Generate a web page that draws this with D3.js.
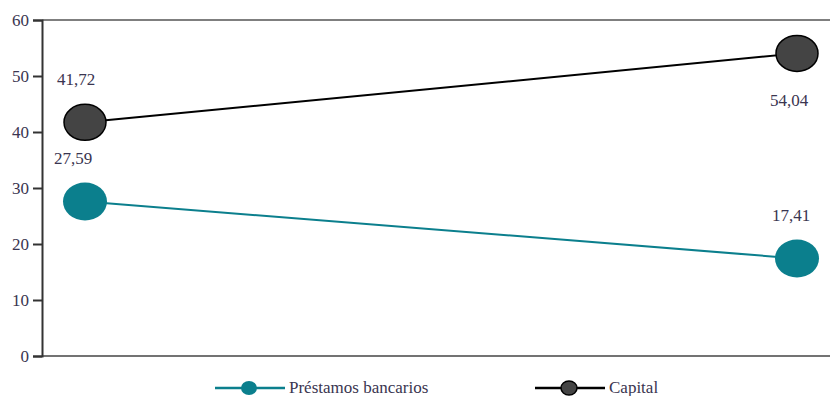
<!DOCTYPE html>
<html><head><meta charset="utf-8">
<script src="https://cdn.jsdelivr.net/npm/d3@7"></script>
<style>body{margin:0;background:#fff;font-family:"Liberation Serif"}svg{display:block}</style>
</head><body>
<svg id="c" width="830" height="396" font-family="Liberation Serif"></svg>
<script>
const periods = ["Inicio", "Fin"];
const seriesNames = ["Préstamos bancarios", "Capital"];
const prestamos = [27.59, 17.41];
const capital = [41.72, 54.04];
const prestamosLabels = ["27,59", "17,41"];
const capitalLabels = ["41,72", "54,04"];
const yTicks = [0, 10, 20, 30, 40, 50, 60];

const svg = d3.select("#c");
const font = "Liberation Serif";
const teal = "#0b7f8d";
const dark = "#444444";
const textCol = "#3a3550";
const fs = 17;

const x = d3.scalePoint().domain(periods).range([85, 797]);
const y = d3.scaleLinear().domain([0, 60]).range([356, 20]);

function styleText(sel) {
  return sel.attr("font-family", font).attr("font-size", fs).attr("fill", textCol)
    .style("font-family", '"Liberation Serif"').style("font-size", fs + "px");
}

// top border line
svg.append("line").attr("x1", 42).attr("x2", 830).attr("y1", y(60)).attr("y2", y(60))
  .attr("stroke", "#555").attr("stroke-width", 1.5);
// bottom axis line
svg.append("line").attr("x1", 42).attr("x2", 830).attr("y1", y(0)).attr("y2", y(0))
  .attr("stroke", "#444").attr("stroke-width", 1.5);

const yAxis = svg.append("g").attr("transform", "translate(42,0)")
  .call(d3.axisLeft(y).tickValues(yTicks).tickSize(9).tickPadding(4).tickFormat(d3.format("d")));
yAxis.attr("font-family", font).attr("font-size", fs);
yAxis.select(".domain").attr("stroke", "#333").attr("stroke-width", 2);
yAxis.selectAll(".tick line").attr("stroke", "#333").attr("stroke-width", 2);
styleText(yAxis.selectAll("text"));

const line = d3.line().x((d, i) => x(periods[i])).y(d => y(d));

// lines
svg.append("path").datum(prestamos).attr("d", line).attr("fill", "none")
  .attr("stroke", teal).attr("stroke-width", 2);
svg.append("path").datum(capital).attr("d", line).attr("fill", "none")
  .attr("stroke", "#000").attr("stroke-width", 2);

// markers
svg.selectAll(".mp").data(prestamos).enter().append("ellipse")
  .attr("cx", (d, i) => x(periods[i])).attr("cy", d => y(d))
  .attr("rx", 22).attr("ry", 19).attr("fill", teal);
svg.selectAll(".mc").data(capital).enter().append("ellipse")
  .attr("cx", (d, i) => x(periods[i])).attr("cy", d => y(d))
  .attr("rx", 21).attr("ry", 18).attr("fill", dark).attr("stroke", "#000").attr("stroke-width", 1.5);

// value labels
const lblOffsetsCap = [[-9, -37], [-8, 53]];
const lblOffsetsPre = [[-12, -37], [-6, -38]];
styleText(svg.selectAll(".lc").data(capital).enter().append("text")
  .attr("x", (d, i) => x(periods[i]) + lblOffsetsCap[i][0])
  .attr("y", (d, i) => y(d) + lblOffsetsCap[i][1])
  .attr("text-anchor", "middle"))
  .text((d, i) => capitalLabels[i]);
styleText(svg.selectAll(".lp").data(prestamos).enter().append("text")
  .attr("x", (d, i) => x(periods[i]) + lblOffsetsPre[i][0])
  .attr("y", (d, i) => y(d) + lblOffsetsPre[i][1])
  .attr("text-anchor", "middle"))
  .text((d, i) => prestamosLabels[i]);

// legend
const legend = [
  {name: seriesNames[0], x0: 215, color: teal, fill: teal, stroke: "none"},
  {name: seriesNames[1], x0: 535, color: "#000", fill: dark, stroke: "#000"}
];
const ly = 388;
legend.forEach(l => {
  const g = svg.append("g");
  g.append("line").attr("x1", l.x0).attr("x2", l.x0 + 70).attr("y1", ly).attr("y2", ly)
    .attr("stroke", l.color).attr("stroke-width", 2.5);
  g.append("ellipse").attr("cx", l.x0 + 34).attr("cy", ly).attr("rx", 8).attr("ry", 7)
    .attr("fill", l.fill).attr("stroke", l.stroke).attr("stroke-width", 1.5);
  styleText(g.append("text").attr("x", l.x0 + 74).attr("y", ly + 5)).text(l.name);
});
</script>
</body></html>
